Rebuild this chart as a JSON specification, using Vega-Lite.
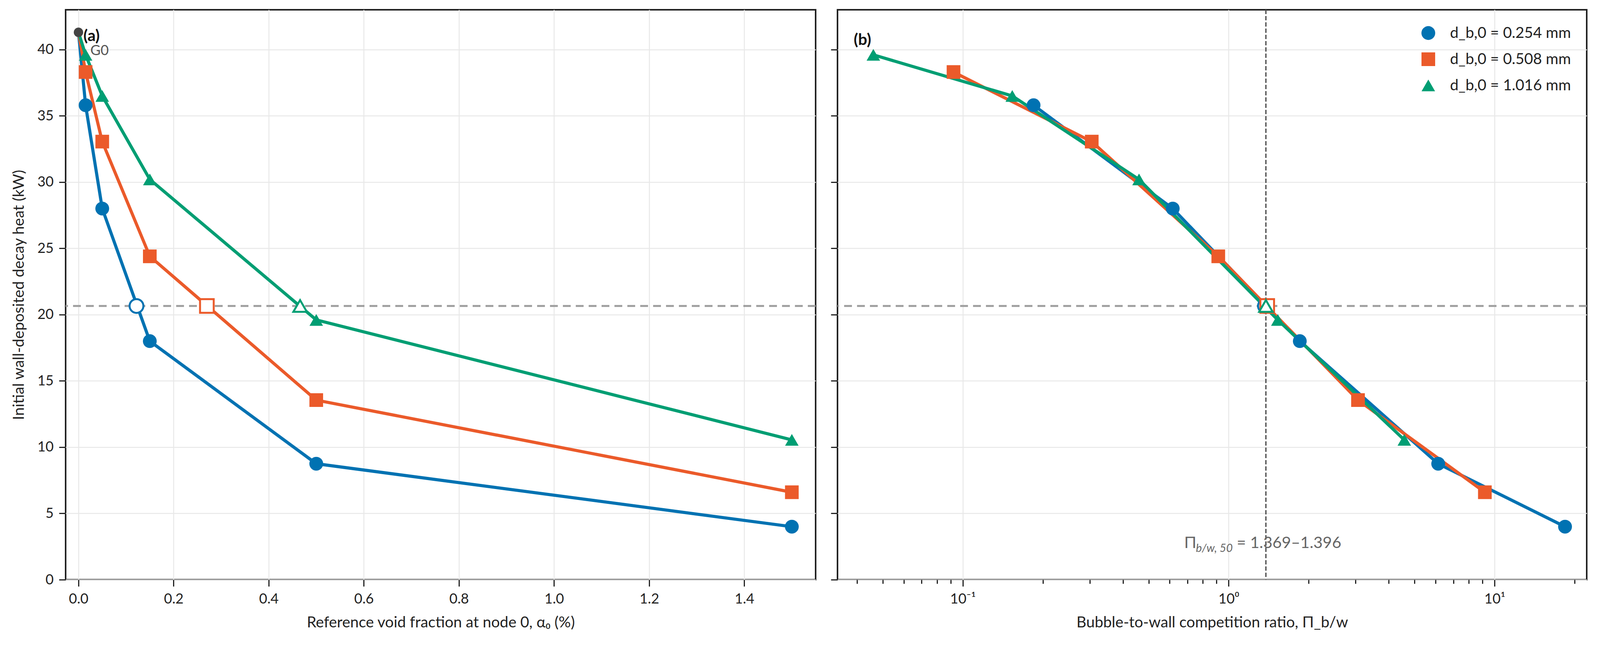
{
  "$schema": "https://vega.github.io/schema/vega-lite/v6.json",
  "background": "white",
  "padding": {"left": 27, "top": 21, "right": 10, "bottom": 5},
  "spacing": 30,
  "config": {
    "font": "Lato",
    "view": {"stroke": "#222", "strokeWidth": 4},
    "axis": {
      "labelFontSize": 36,
      "titleFontSize": 39,
      "titleFontWeight": "normal",
      "labelColor": "#222",
      "titleColor": "#222",
      "tickSize": 17,
      "tickWidth": 3,
      "tickColor": "#222",
      "domain": false,
      "gridColor": "#e8e8e8",
      "gridWidth": 2.5
    },
    "axisX": {"labelPadding": 15, "titlePadding": 23},
    "axisY": {"labelPadding": 14, "titlePadding": 27},
    "legend": {
      "labelFontSize": 39,
      "labelColor": "#222",
      "labelLimit": 800,
      "symbolSize": 1200,
      "symbolStrokeWidth": 0,
      "rowPadding": 27,
      "labelOffset": 36,
      "offset": 40
    }
  },
  "datasets": {
    "alpha": [
      {"series": "d_b,0 = 0.254 mm", "alpha": 0, "heat": 41.3},
      {"series": "d_b,0 = 0.254 mm", "alpha": 0.015, "heat": 35.8},
      {"series": "d_b,0 = 0.254 mm", "alpha": 0.05, "heat": 28.0},
      {"series": "d_b,0 = 0.254 mm", "alpha": 0.15, "heat": 18.0},
      {"series": "d_b,0 = 0.254 mm", "alpha": 0.5, "heat": 8.75},
      {"series": "d_b,0 = 0.254 mm", "alpha": 1.5, "heat": 4.0},
      {"series": "d_b,0 = 0.508 mm", "alpha": 0, "heat": 41.3},
      {"series": "d_b,0 = 0.508 mm", "alpha": 0.015, "heat": 38.3},
      {"series": "d_b,0 = 0.508 mm", "alpha": 0.05, "heat": 33.05},
      {"series": "d_b,0 = 0.508 mm", "alpha": 0.15, "heat": 24.4},
      {"series": "d_b,0 = 0.508 mm", "alpha": 0.5, "heat": 13.55},
      {"series": "d_b,0 = 0.508 mm", "alpha": 1.5, "heat": 6.6},
      {"series": "d_b,0 = 1.016 mm", "alpha": 0, "heat": 41.3},
      {"series": "d_b,0 = 1.016 mm", "alpha": 0.015, "heat": 39.6},
      {"series": "d_b,0 = 1.016 mm", "alpha": 0.05, "heat": 36.5},
      {"series": "d_b,0 = 1.016 mm", "alpha": 0.15, "heat": 30.2},
      {"series": "d_b,0 = 1.016 mm", "alpha": 0.5, "heat": 19.6},
      {"series": "d_b,0 = 1.016 mm", "alpha": 1.5, "heat": 10.55}
    ],
    "pi": [
      {"series": "d_b,0 = 0.254 mm", "pi": 0.1846, "heat": 35.8},
      {"series": "d_b,0 = 0.254 mm", "pi": 0.616, "heat": 28.0},
      {"series": "d_b,0 = 0.254 mm", "pi": 1.851, "heat": 18.0},
      {"series": "d_b,0 = 0.254 mm", "pi": 6.135, "heat": 8.75},
      {"series": "d_b,0 = 0.254 mm", "pi": 18.4, "heat": 4.0},
      {"series": "d_b,0 = 0.508 mm", "pi": 0.0923, "heat": 38.3},
      {"series": "d_b,0 = 0.508 mm", "pi": 0.3055, "heat": 33.05},
      {"series": "d_b,0 = 0.508 mm", "pi": 0.9138, "heat": 24.4},
      {"series": "d_b,0 = 0.508 mm", "pi": 3.064, "heat": 13.55},
      {"series": "d_b,0 = 0.508 mm", "pi": 9.19, "heat": 6.6},
      {"series": "d_b,0 = 1.016 mm", "pi": 0.0461, "heat": 39.6},
      {"series": "d_b,0 = 1.016 mm", "pi": 0.1535, "heat": 36.5},
      {"series": "d_b,0 = 1.016 mm", "pi": 0.46, "heat": 30.2},
      {"series": "d_b,0 = 1.016 mm", "pi": 1.53, "heat": 19.6},
      {"series": "d_b,0 = 1.016 mm", "pi": 4.575, "heat": 10.55}
    ],
    "half_alpha": [
      {"series": "d_b,0 = 0.254 mm", "alpha": 0.122, "heat": 20.65},
      {"series": "d_b,0 = 0.508 mm", "alpha": 0.27, "heat": 20.65},
      {"series": "d_b,0 = 1.016 mm", "alpha": 0.466, "heat": 20.65}
    ],
    "half_pi": [
      {"series": "d_b,0 = 0.254 mm", "pi": 1.369, "heat": 20.65},
      {"series": "d_b,0 = 0.508 mm", "pi": 1.396, "heat": 20.65},
      {"series": "d_b,0 = 1.016 mm", "pi": 1.38, "heat": 20.65}
    ],
    "ref_heat": [{"heat": 20.65}],
    "ref_pi": [{"pi": 1.38}],
    "g0": [{"alpha": 0, "heat": 41.3}],
    "tags_a": [
      {"alpha": 0.0104, "heat": 41.0, "text": "(a)"}
    ],
    "g0_label": [
      {"alpha": 0.025, "heat": 39.9, "text": "G0"}
    ],
    "tags_b": [
      {"pi": 0.0389, "heat": 40.7, "text": "(b)"}
    ],
    "note_main": [
      {"pi": 0.68, "heat": 2.38, "text": "Π"},
      {"pi": 1.072, "heat": 2.38, "text": "= 1.369–1.396"}
    ],
    "note_sub": [
      {"pi": 0.753, "heat": 2.1, "text": "b/w, 50"}
    ]
  },
  "resolve": {
    "scale": {"color": "independent", "shape": "independent", "stroke": "independent", "size": "independent", "x": "independent", "y": "independent"},
    "legend": {"color": "independent", "shape": "independent", "size": "independent"}
  },
  "hconcat": [
    {
      "width": 1920,
      "height": 1458,
      "layer": [
        {
          "data": {"name": "ref_heat"},
          "mark": {"type": "rule", "color": "#9e9e9e", "strokeWidth": 5, "strokeDash": [20, 13]},
          "encoding": {
            "y": {"field": "heat", "type": "quantitative", "scale": {"domain": [0, 43], "nice": false, "zero": false}}
          }
        },
        {
          "data": {"name": "alpha"},
          "mark": {"type": "line", "strokeWidth": 8},
          "encoding": {
            "x": {
              "field": "alpha", "type": "quantitative",
              "scale": {"domain": [-0.027, 1.55], "nice": false, "zero": false},
              "axis": {"values": [0, 0.2, 0.4, 0.6, 0.8, 1.0, 1.2, 1.4], "format": ".1f", "title": "Reference void fraction at node 0, α₀ (%)"}
            },
            "y": {
              "field": "heat", "type": "quantitative",
              "scale": {"domain": [0, 43], "nice": false, "zero": false},
              "axis": {"values": [0, 5, 10, 15, 20, 25, 30, 35, 40], "title": "Initial wall-deposited decay heat (kW)"}
            },
            "color": {
              "field": "series", "type": "nominal",
              "scale": {"domain": ["d_b,0 = 0.254 mm", "d_b,0 = 0.508 mm", "d_b,0 = 1.016 mm"], "range": ["#0072B2", "#EB5A2A", "#009E73"]},
              "legend": null
            },
            "order": {"field": "alpha", "type": "quantitative"}
          }
        },
        {
          "data": {"name": "alpha"},
          "transform": [{"filter": "datum.alpha > 0"}],
          "mark": {"type": "point", "filled": true, "opacity": 1},
          "encoding": {
            "x": {"field": "alpha", "type": "quantitative"},
            "y": {"field": "heat", "type": "quantitative"},
            "color": {"field": "series", "type": "nominal", "legend": null},
            "shape": {
              "field": "series", "type": "nominal",
              "scale": {"domain": ["d_b,0 = 0.254 mm", "d_b,0 = 0.508 mm", "d_b,0 = 1.016 mm"], "range": ["circle", "square", "triangle-up"]},
              "legend": null
            },
            "size": {
              "field": "series", "type": "nominal",
              "scale": {"domain": ["d_b,0 = 0.254 mm", "d_b,0 = 0.508 mm", "d_b,0 = 1.016 mm"], "range": [1250, 1200, 1750]},
              "legend": null
            }
          }
        },
        {
          "data": {"name": "half_alpha"},
          "mark": {"type": "point", "filled": false, "fill": "white", "fillOpacity": 1, "strokeWidth": 5, "opacity": 1},
          "encoding": {
            "x": {"field": "alpha", "type": "quantitative"},
            "y": {"field": "heat", "type": "quantitative"},
            "stroke": {
              "field": "series", "type": "nominal",
              "scale": {"domain": ["d_b,0 = 0.254 mm", "d_b,0 = 0.508 mm", "d_b,0 = 1.016 mm"], "range": ["#0072B2", "#EB5A2A", "#009E73"]},
              "legend": null
            },
            "shape": {"field": "series", "type": "nominal", "legend": null},
            "size": {"field": "series", "type": "nominal", "legend": null}
          }
        },
        {
          "data": {"name": "g0"},
          "mark": {"type": "point", "filled": true, "size": 580, "color": "#444", "opacity": 1},
          "encoding": {
            "x": {"field": "alpha", "type": "quantitative"},
            "y": {"field": "heat", "type": "quantitative"}
          }
        },
        {
          "data": {"name": "g0_label"},
          "mark": {"type": "text", "align": "left", "baseline": "middle", "fontSize": 36, "color": "#555"},
          "encoding": {
            "x": {"field": "alpha", "type": "quantitative"},
            "y": {"field": "heat", "type": "quantitative"},
            "text": {"field": "text"}
          }
        },
        {
          "data": {"name": "tags_a"},
          "mark": {"type": "text", "align": "left", "baseline": "middle", "fontSize": 41, "fontWeight": "bold", "color": "#111"},
          "encoding": {
            "x": {"field": "alpha", "type": "quantitative"},
            "y": {"field": "heat", "type": "quantitative"},
            "text": {"field": "text"}
          }
        }
      ]
    },
    {
      "width": 1918,
      "height": 1458,
      "layer": [
        {
          "data": {"name": "ref_heat"},
          "mark": {"type": "rule", "color": "#9e9e9e", "strokeWidth": 5, "strokeDash": [20, 13]},
          "encoding": {
            "y": {"field": "heat", "type": "quantitative", "scale": {"domain": [0, 43], "nice": false, "zero": false}}
          }
        },
        {
          "data": {"name": "ref_pi"},
          "mark": {"type": "rule", "color": "#555", "strokeWidth": 3.5, "strokeDash": [11, 5]},
          "encoding": {
            "x": {"field": "pi", "type": "quantitative", "scale": {"type": "log", "domain": [0.0338, 22.2], "nice": false}}
          }
        },
        {
          "data": {"name": "pi"},
          "mark": {"type": "line", "strokeWidth": 8},
          "encoding": {
            "x": {
              "field": "pi", "type": "quantitative",
              "scale": {"type": "log", "domain": [0.0338, 22.2], "nice": false},
              "axis": {
                "values": [0.04, 0.05, 0.06, 0.07, 0.08, 0.09, 0.1, 0.2, 0.3, 0.4, 0.5, 0.6, 0.7, 0.8, 0.9, 1, 2, 3, 4, 5, 6, 7, 8, 9, 10, 20],
                "labelExpr": "datum.value === 0.1 ? '10⁻¹' : datum.value === 1 ? '10⁰' : datum.value === 10 ? '10¹' : ''",
                "tickSize": {"condition": {"test": "datum.value === 0.1 || datum.value === 1 || datum.value === 10", "value": 17}, "value": 10},
                "gridOpacity": {"condition": {"test": "datum.value === 0.1 || datum.value === 1 || datum.value === 10", "value": 1}, "value": 0},
                "title": "Bubble-to-wall competition ratio, Π_b/w"
              }
            },
            "y": {
              "field": "heat", "type": "quantitative",
              "scale": {"domain": [0, 43], "nice": false, "zero": false},
              "axis": {"values": [0, 5, 10, 15, 20, 25, 30, 35, 40], "labels": false, "title": null}
            },
            "color": {
              "field": "series", "type": "nominal",
              "scale": {"domain": ["d_b,0 = 0.254 mm", "d_b,0 = 0.508 mm", "d_b,0 = 1.016 mm"], "range": ["#0072B2", "#EB5A2A", "#009E73"]},
              "legend": {"title": null, "orient": "top-right"}
            },
            "order": {"field": "pi", "type": "quantitative"}
          }
        },
        {
          "data": {"name": "pi"},
          "mark": {"type": "point", "filled": true, "opacity": 1},
          "encoding": {
            "x": {"field": "pi", "type": "quantitative"},
            "y": {"field": "heat", "type": "quantitative"},
            "color": {"field": "series", "type": "nominal", "legend": {"title": null, "orient": "top-right"}},
            "shape": {
              "field": "series", "type": "nominal",
              "scale": {"domain": ["d_b,0 = 0.254 mm", "d_b,0 = 0.508 mm", "d_b,0 = 1.016 mm"], "range": ["circle", "square", "triangle-up"]},
              "legend": {"title": null, "orient": "top-right"}
            },
            "size": {
              "field": "series", "type": "nominal",
              "scale": {"domain": ["d_b,0 = 0.254 mm", "d_b,0 = 0.508 mm", "d_b,0 = 1.016 mm"], "range": [1250, 1200, 1750]},
              "legend": null
            }
          }
        },
        {
          "data": {"name": "half_pi"},
          "mark": {"type": "point", "filled": false, "fill": "white", "fillOpacity": 1, "strokeWidth": 5, "opacity": 1},
          "encoding": {
            "x": {"field": "pi", "type": "quantitative"},
            "y": {"field": "heat", "type": "quantitative"},
            "stroke": {
              "field": "series", "type": "nominal",
              "scale": {"domain": ["d_b,0 = 0.254 mm", "d_b,0 = 0.508 mm", "d_b,0 = 1.016 mm"], "range": ["#0072B2", "#EB5A2A", "#009E73"]},
              "legend": null
            },
            "shape": {"field": "series", "type": "nominal", "legend": null},
            "size": {"field": "series", "type": "nominal", "legend": null}
          }
        },
        {
          "data": {"name": "tags_b"},
          "mark": {"type": "text", "align": "left", "baseline": "middle", "fontSize": 41, "fontWeight": "bold", "color": "#111"},
          "encoding": {
            "x": {"field": "pi", "type": "quantitative"},
            "y": {"field": "heat", "type": "quantitative"},
            "text": {"field": "text"}
          }
        },
        {
          "data": {"name": "note_main"},
          "mark": {"type": "text", "align": "left", "baseline": "alphabetic", "fontSize": 41, "color": "#666"},
          "encoding": {
            "x": {"field": "pi", "type": "quantitative"},
            "y": {"field": "heat", "type": "quantitative"},
            "text": {"field": "text"}
          }
        },
        {
          "data": {"name": "note_sub"},
          "mark": {"type": "text", "align": "left", "baseline": "alphabetic", "fontSize": 29, "fontStyle": "italic", "color": "#666"},
          "encoding": {
            "x": {"field": "pi", "type": "quantitative"},
            "y": {"field": "heat", "type": "quantitative"},
            "text": {"field": "text"}
          }
        }
      ]
    }
  ]
}
